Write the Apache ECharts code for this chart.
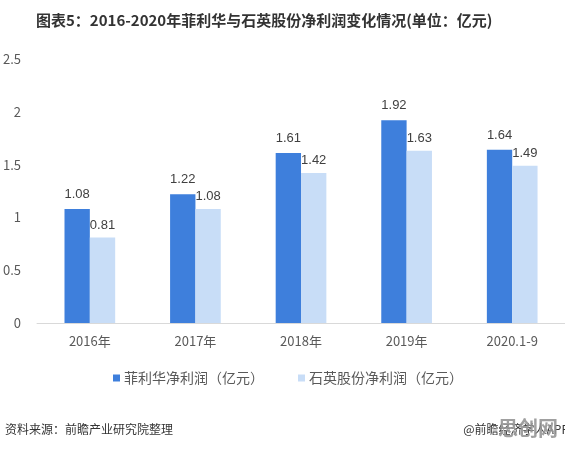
<!DOCTYPE html>
<html>
<head>
<meta charset="utf-8">
<script src="https://cdn.jsdelivr.net/npm/echarts@6/dist/echarts.min.js"></script>
<style>
  html, body { margin: 0; padding: 0; background: #fff; }
  #chart { width: 565px; height: 449px; }
</style>
</head>
<body>
<div id="chart"></div>
<script>
// 类目与数据
var categories = ['2016年', '2017年', '2018年', '2019年', '2020.1-9']
var feilihua = [1.08, 1.22, 1.61, 1.92, 1.64]
var shiying = [0.81, 1.08, 1.42, 1.63, 1.49]
var seriesNames = ['菲利华净利润（亿元）', '石英股份净利润（亿元）']

var darkBlue = '#3e7fdc'
var lightBlue = '#c8ddf7'
var fontCN = '"Microsoft YaHei", "Noto Sans CJK SC", sans-serif'

var myChart = echarts.init(document.getElementById('chart'))

var option = {
  backgroundColor: '#fff',
  title: {
    text: '图表5：2016-2020年菲利华与石英股份净利润变化情况(单位：亿元)',
    left: 31,
    top: 8,
    textStyle: { fontSize: 15, fontWeight: 'bold', color: '#333', fontFamily: fontCN }
  },
  legend: {
    top: 366,
    left: 108,
    itemWidth: 7,
    itemHeight: 7,
    itemGap: 34,
    icon: 'rect',
    textStyle: { fontSize: 14, color: '#595959', fontFamily: fontCN, padding: [0, 0, 0, -1] },
    data: seriesNames
  },
  grid: { left: 36, top: 59, width: 538, height: 264 },
  xAxis: {
    type: 'category',
    data: categories,
    axisLine: { lineStyle: { color: '#d9d9d9' } },
    axisTick: { show: false },
    axisLabel: { fontSize: 13, color: '#595959', margin: 12, fontFamily: fontCN }
  },
  yAxis: {
    type: 'value',
    min: 0,
    max: 2.5,
    interval: 0.5,
    splitLine: { show: false },
    axisLine: { show: false },
    axisTick: { show: false },
    axisLabel: { fontSize: 13, color: '#595959', margin: 16, fontFamily: fontCN }
  },
  series: [
    {
      name: seriesNames[0],
      type: 'bar',
      data: feilihua,
      barGap: '0%',
      barCategoryGap: '52%',
      itemStyle: { color: darkBlue },
      label: { show: true, position: 'top', distance: 8, fontSize: 13, color: '#404040' }
    },
    {
      name: seriesNames[1],
      type: 'bar',
      data: shiying,
      itemStyle: { color: lightBlue },
      label: { show: true, position: 'top', distance: 6, fontSize: 13, color: '#404040' }
    }
  ],
  graphic: [
    {
      type: 'text', left: 5, top: 423,
      style: { text: '资料来源：前瞻产业研究院整理', fontSize: 12, fill: '#333', fontFamily: fontCN }
    },
    {
      type: 'text', right: -4, top: 423,
      style: { text: '@前瞻经济学人APP', fontSize: 12, fill: '#333', fontFamily: fontCN }
    },
    {
      type: 'text', left: 498, top: 418,
      style: { text: '思创网', fontSize: 20, fontWeight: 'bold', fill: 'rgba(150,150,150,0.9)', fontFamily: fontCN }
    }
  ]
}

myChart.setOption(option)
</script>
</body>
</html>
